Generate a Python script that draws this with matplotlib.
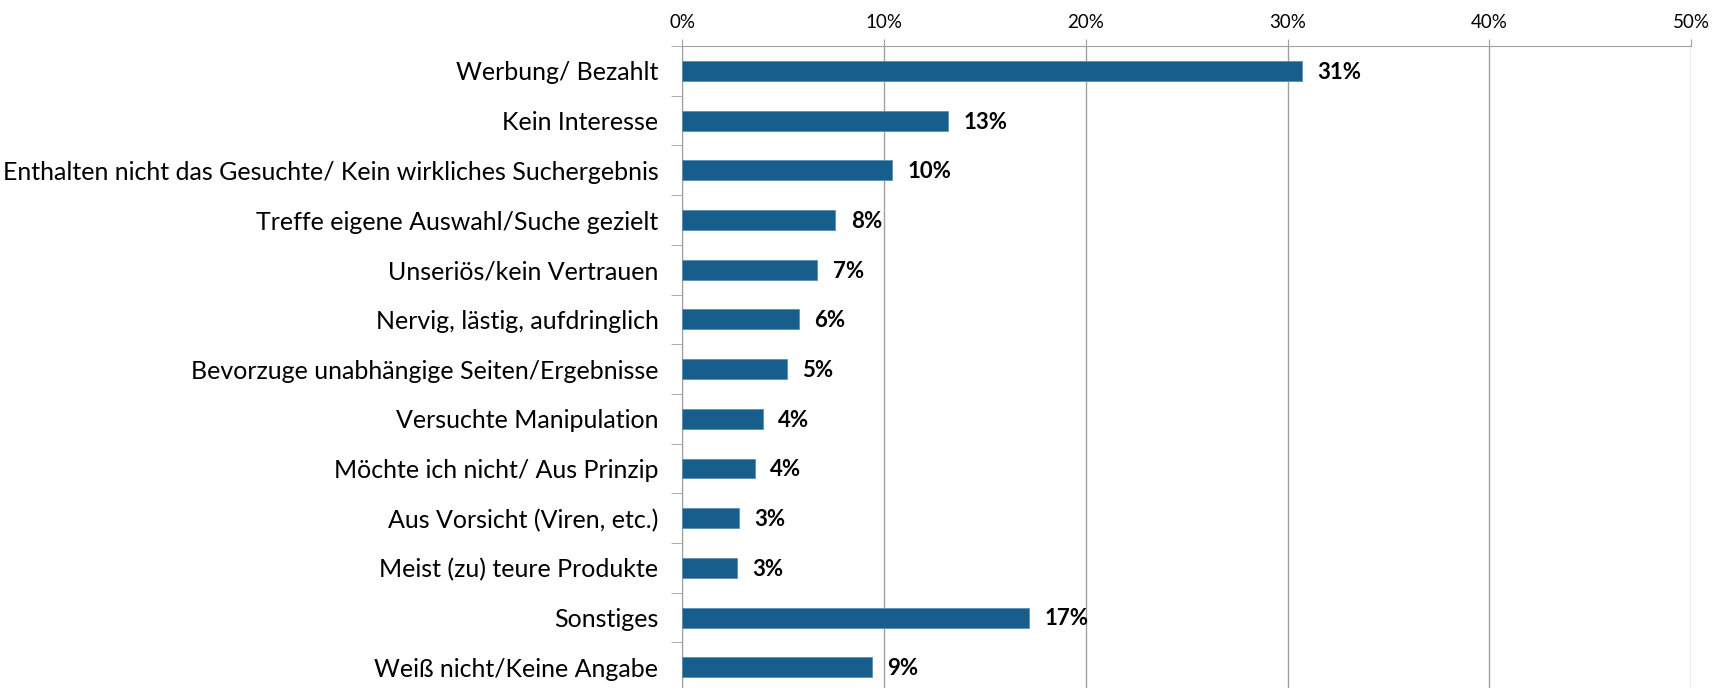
# Horizontal bar chart: Gruende gegen bezahlte Suchergebnisse

import matplotlib.pyplot as plt
from matplotlib.ticker import FuncFormatter

# Data:
kategorien = [
    "Werbung/ Bezahlt",
    "Kein Interesse",
    "Enthalten nicht das Gesuchte/ Kein wirkliches Suchergebnis",
    "Treffe eigene Auswahl/Suche gezielt",
    "Unseriös/kein Vertrauen",
    "Nervig, lästig, aufdringlich",
    "Bevorzuge unabhängige Seiten/Ergebnisse",
    "Versuchte Manipulation",
    "Möchte ich nicht/ Aus Prinzip",
    "Aus Vorsicht (Viren, etc.)",
    "Meist (zu) teure Produkte",
    "Sonstiges",
    "Weiß nicht/Keine Angabe",
]
werte = [30.7, 13.2, 10.4, 7.6, 6.7, 5.8, 5.2, 4.0, 3.6, 2.8, 2.7, 17.2, 9.4]
xticks = [0, 10, 20, 30, 40, 50]

plt.rcParams['font.family'] = ['Lato', 'DejaVu Sans']

fig = plt.figure(figsize=(17.28, 6.88), dpi=100)
ax = fig.add_axes([0.3947, -0.006, 0.584, 0.939])

pos = list(range(len(kategorien)))
ax.barh(pos, werte, height=0.4, color='#185e8c', edgecolor='#5d8fb3',
        linewidth=0.6, zorder=3)

# Value labels:
for p, w in zip(pos, werte):
    ax.annotate("%d%%" % round(w), (w, p), xytext=(11, -1),
                textcoords='offset points', va='center', ha='left',
                fontsize=16, fontweight='bold', color='black')

ax.set_xlim(0, 50)
ax.set_ylim(len(kategorien) - 0.5, -0.5)

# x axis on top:
ax.xaxis.tick_top()
ax.set_xticks(xticks)
ax.xaxis.set_major_formatter(FuncFormatter(lambda v, _: "%d%%" % v))
ax.tick_params(axis='x', length=5, color='#a0a0a0', labelsize=13.5, pad=6)
ax.grid(axis='x', color='#a0a0a0', linewidth=1, zorder=0)

# y axis labels, ticks between categories:
ax.set_yticks(pos)
ax.set_yticklabels(kategorien, fontsize=18)
ax.tick_params(axis='y', length=0, pad=17)
ax.set_yticks([p + 0.5 for p in pos[:-1]] + [-0.5], minor=True)
ax.tick_params(axis='y', which='minor', length=8, color='#a0a0a0')

for s in ['right', 'bottom']:
    ax.spines[s].set_visible(False)
ax.spines['top'].set_color('#a0a0a0')
ax.spines['left'].set_color('#a0a0a0')

plt.savefig('out.png', dpi=100)
